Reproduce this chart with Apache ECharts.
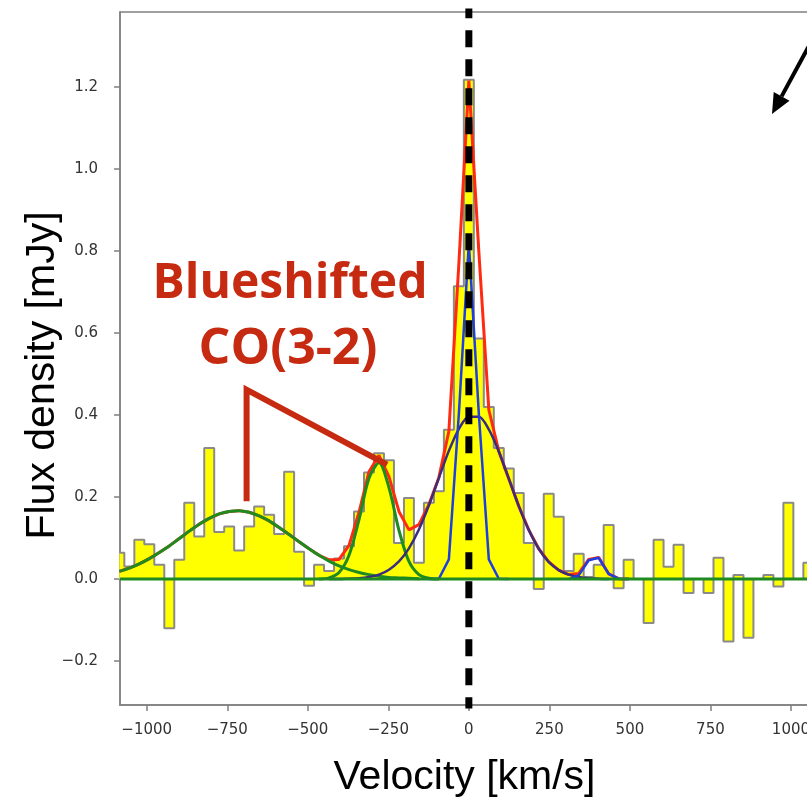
<!DOCTYPE html>
<html>
<head>
<meta charset="utf-8">
<script src="https://cdn.jsdelivr.net/npm/echarts@6/dist/echarts.min.js"></script>
<style>
html,body{margin:0;padding:0;background:#fff;}
#chart{width:807px;height:799px;}
</style>
</head>
<body>
<div id="chart"></div>
<script>
// ---- channel velocities (bin centres, km/s) ----
const velocity = [-1085,-1054,-1023,-992,-961,-930,-899,-868,-837,-806,
  -775,-744,-713,-682,-651,-620,-589,-558,-527,-496,
  -465,-434,-403,-372,-341,-310,-279,-248,-217,-186,
  -155,-124,-93,-62,-31,0,31,62,93,124,
  155,186,217,248,279,310,341,372,403,434,
  465,496,527,558,589,620,651,682,713,744,
  775,806,837,868,899,930,961,992,1023,1054];
// ---- observed flux density per channel (mJy) ----
const flux = [0.064,0.031,0.096,0.085,0.035,-0.120,0.047,0.186,0.104,0.320,
  0.115,0.128,0.070,0.128,0.177,0.157,0.110,0.262,0.067,-0.016,
  0.035,0.020,0.050,0.080,0.165,0.260,0.307,0.290,0.088,0.198,
  0.040,0.186,0.214,0.364,0.714,1.218,0.587,0.420,0.320,0.270,
  0.210,0.088,-0.024,0.208,0.152,0.020,0.062,0.005,0.035,0.132,
  -0.022,0.047,0.000,-0.107,0.096,0.030,0.084,-0.034,0.000,-0.034,
  0.052,-0.152,0.010,-0.143,0.000,0.010,-0.018,0.186,0.000,0.040];
// ---- model components ----
const totalV = [-1085,-1054,-1023,-992,-961,-930,-899,-868,-837,-806,
  -775,-744,-713,-682,-651,-620,-589,-558,-527,-496,
  -465,-434,-403,-372,-341,-310,-279,-248,-217,-186,
  -155,-124,-93,-62,-31,0,31,62,93,124,
  155,186,217,248,279,310,341,372,403,434,465,496];
const totalY = [0.019,0.027,0.037,0.050,0.065,0.081,0.099,0.117,0.134,0.148,
  0.159,0.165,0.167,0.163,0.154,0.142,0.126,0.109,0.091,0.074,
  0.058,0.047,0.048,0.082,0.163,0.262,0.302,0.250,0.165,0.120,
  0.133,0.182,0.248,0.361,0.769,1.216,0.799,0.413,0.312,0.245,
  0.178,0.120,0.074,0.042,0.022,0.011,0.014,0.048,0.053,0.013,0.001,0.000];
const broadBlueV = [-1085,-1054,-1023,-992,-961,-930,-899,-868,-837,-806,
  -775,-744,-713,-682,-651,-620,-589,-558,-527,-496,
  -465,-434,-403,-372,-341,-310,-279,-248,-217,-186,-155];
const broadBlueY = [0.019,0.027,0.037,0.050,0.065,0.081,0.099,0.117,0.134,0.148,
  0.159,0.165,0.167,0.163,0.154,0.142,0.126,0.109,0.091,0.074,
  0.058,0.044,0.032,0.023,0.016,0.011,0.007,0.004,0.003,0.002,0.001];
const narrowBlueV = [-465,-434,-403,-372,-341,-310,-279,-248,-217,-186,-155,-124,-93];
const narrowBlueY = [0.000,0.003,0.016,0.058,0.145,0.246,0.284,0.223,0.119,0.043,0.011,0.002,0.000];
const coreV = [-124,-93,-62,-31,0,31,62,93,124];
const coreY = [0.000,0.001,0.048,0.403,0.820,0.403,0.048,0.001,0.000];
const wingV = [-434,-403,-372,-341,-310,-279,-248,-217,-186,-155,-124,-93,-62,-31,0,
  31,62,93,124,155,186,217,248,279,310,341,372,403,434];
const wingY = [0.000,0.000,0.001,0.002,0.005,0.011,0.023,0.043,0.075,0.121,0.180,0.247,0.313,0.366,0.396,
  0.396,0.365,0.311,0.245,0.178,0.120,0.074,0.042,0.022,0.011,0.005,0.002,0.001,0.000];
const redV = [310,341,372,403,434,465,496];
const redY = [0.000,0.009,0.046,0.052,0.013,0.001,0.000];
// ---- ticks ----
const xTicks = [-1000,-750,-500,-250,0,250,500,750,1000];
const yTicks = [-0.2,0.0,0.2,0.4,0.6,0.8,1.0,1.2];
// ---- annotation (pointer from label to the two blueshifted components) ----
const pointerV = [-690,-690,-254];
const pointerY = [0.19,0.462,0.279];

const zip = (a,b) => a.map((v,i)=>[v,b[i]]);
const RED = '#c62a10';
const chart = echarts.init(document.getElementById('chart'));
const curve = (name, v, y, color, w, z, smooth) => ({
  name, type:'line', data: zip(v,y), symbol:'none', smooth: smooth||false,
  lineStyle:{color, width:w}, z, silent:true
});
chart.setOption({
  animation:false,
  backgroundColor:'#ffffff',
  grid:{left:120, right:-2, top:12, bottom:94, outerBoundsMode:'none', containLabel:false,
        show:true, borderColor:'#808080', borderWidth:1.5, backgroundColor:'transparent'},
  xAxis:{
    type:'value', min:-1083, max:1056,
    name:'Velocity [km/s]', nameLocation:'middle', nameGap:52, nameMoveOverlap:false,
    nameTextStyle:{fontFamily:'Liberation Sans', fontSize:41, color:'#000'},
    axisLine:{show:true, onZero:false, lineStyle:{color:'#808080', width:1.5}},
    axisTick:{show:true, length:6, customValues:xTicks, lineStyle:{color:'#808080', width:1.5}},
    axisLabel:{customValues:xTicks, margin:18, fontFamily:'DejaVu Sans', fontSize:15, color:'#333333',
      formatter:v => v<0 ? '\u2212'+Math.abs(v) : String(v)},
    splitLine:{show:false}
  },
  yAxis:{
    type:'value', min:-0.307, max:1.383,
    name:'Flux density [mJy]', nameLocation:'middle', nameGap:57, nameRotate:90, nameMoveOverlap:false,
    nameTextStyle:{fontFamily:'Liberation Sans', fontSize:41, color:'#000', padding:[0,34,0,0]},
    axisLine:{show:true, onZero:false, lineStyle:{color:'#808080', width:1.5}},
    axisTick:{show:true, length:6, customValues:yTicks, lineStyle:{color:'#808080', width:1.5}},
    axisLabel:{customValues:yTicks, margin:22, fontFamily:'DejaVu Sans', fontSize:15, color:'#333333',
      formatter:v => (v<0?'\u2212':'') + Math.abs(v).toFixed(1)},
    splitLine:{show:false}
  },
  series:[
    {name:'spectrum', type:'line', step:'middle', data:zip(velocity,flux), symbol:'none',
     lineStyle:{color:'#8a8a8a', width:2}, areaStyle:{color:'#ffff00', opacity:1, origin:'auto'}, z:1, silent:true},
    curve('total', totalV, totalY, '#ff2a10', 3, 2),
    curve('broad blue', broadBlueV, broadBlueY, '#1f8a1f', 3, 3, 0.3),
    curve('narrow blue', narrowBlueV, narrowBlueY, '#1f8a1f', 3, 3, 0.3),
    curve('wing', wingV, wingY, '#3a2d7a', 2.5, 3, 0.3),
    curve('core', coreV, coreY, '#1d3fe0', 2.5, 3),
    curve('red comp', redV, redY, '#1d3fe0', 2.5, 3),
    {name:'baseline', type:'line', data:[[-1083,0],[1056,0]], symbol:'none',
     lineStyle:{color:'#1f8a1f', width:3}, z:4, silent:true},
    {name:'systemic', type:'line', data:[[0,-0.4],[0,1.5]], symbol:'none',
     lineStyle:{color:'#000', width:7, type:[17,12]}, z:5, silent:true},
    {name:'pointer', type:'line', data:zip(pointerV,pointerY), symbol:'none',
     lineStyle:{color:RED, width:6, cap:'butt', join:'miter'}, z:6, silent:true}
  ],
  graphic:[
    {type:'text', x:290, y:284, z:10, style:{text:'Blueshifted', fontFamily:'Open Sans', fontWeight:'bold', fontSize:48, fill:RED, align:'center', verticalAlign:'middle'}},
    {type:'text', x:288, y:350, z:10, style:{text:'CO(3-2)', fontFamily:'Open Sans', fontWeight:'bold', fontSize:50, fill:RED, align:'center', verticalAlign:'middle'}},
    {type:'line', z:10, shape:{x1:810, y1:44, x2:781.6, y2:96.4}, style:{stroke:'#000', lineWidth:4}},
    {type:'polygon', z:10, shape:{points:[[772,114],[789.5,100.7],[773.7,92.1]]}, style:{fill:'#000'}}
  ]
});
</script>
</body>
</html>
